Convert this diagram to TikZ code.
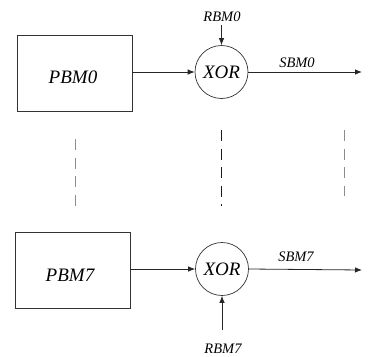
\documentclass[tikz,border=0pt]{standalone}
\usepackage{fontspec}
\setmainfont{Liberation Serif}
\usetikzlibrary{arrows.meta}
\begin{document}
\begin{tikzpicture}[x=1pt,y=-1pt,
  bigtext/.style={inner sep=0pt,font=\fontsize{19}{19}\selectfont\itshape},
  blk/.style={draw=black!80,line width=0.9pt,minimum width=115pt,minimum height=76pt,inner sep=0pt},
  xorc/.style={draw=black!80,line width=0.7pt,circle,minimum size=53pt,inner sep=0pt,font=\fontsize{19}{19}\selectfont\itshape},
  lbl/.style={inner sep=0pt,font=\fontsize{14.5}{14.5}\selectfont\itshape},
  conn/.style={draw=black!85,line width=0.8pt,-{Latex[length=7pt,width=5.5pt]}},
  dsh/.style={line width=1pt,dash pattern=on 11pt off 7.5pt}]
\useasboundingbox (0,0) rectangle (369,356);
% top row
\node[blk] (p0) at (74.5,73) {};
\node[bigtext] (p0t) at (73,77) {PBM0};
\node[xorc] (x0) at (221.5,72) {XOR};
\node[lbl] (r0) at (222,16.5) {RBM0};
\node[lbl] (s0) at (297,63) {SBM0};
\coordinate (e0) at (362,72);
\coordinate (r0a) at (221.5,25);
\draw[conn] (r0a) -- (x0.north);
\draw[conn] (p0.east |- x0.west) -- (x0.west);
\draw[conn] (x0.east) -- (e0);
% bottom row
\node[blk] (p7) at (72.5,270) {};
\node[bigtext] (p7t) at (70,275) {PBM7};
\node[xorc] (x7) at (222,269) {XOR};
\node[lbl] (r7) at (223,349) {RBM7};
\node[lbl] (s7) at (296,257) {SBM7};
\coordinate (e7) at (362,270);
\coordinate (r7a) at (222,330);
\draw[conn] (r7a) -- (x7.south);
\draw[conn] (p7.east |- x7.west) -- (x7.west);
\draw[conn] (x7.east) -- (e7);
% dashed separators
\coordinate (d1a) at (75,139); \coordinate (d1b) at (75,206);
\coordinate (d2a) at (221,130); \coordinate (d2b) at (221,206);
\coordinate (d3a) at (344,130); \coordinate (d3b) at (344,196);
\draw[dsh,black!45] (d1a) -- (d1b);
\draw[dsh,black!90] (d2a) -- (d2b);
\draw[dsh,black!45] (d3a) -- (d3b);
\end{tikzpicture}
\end{document}
